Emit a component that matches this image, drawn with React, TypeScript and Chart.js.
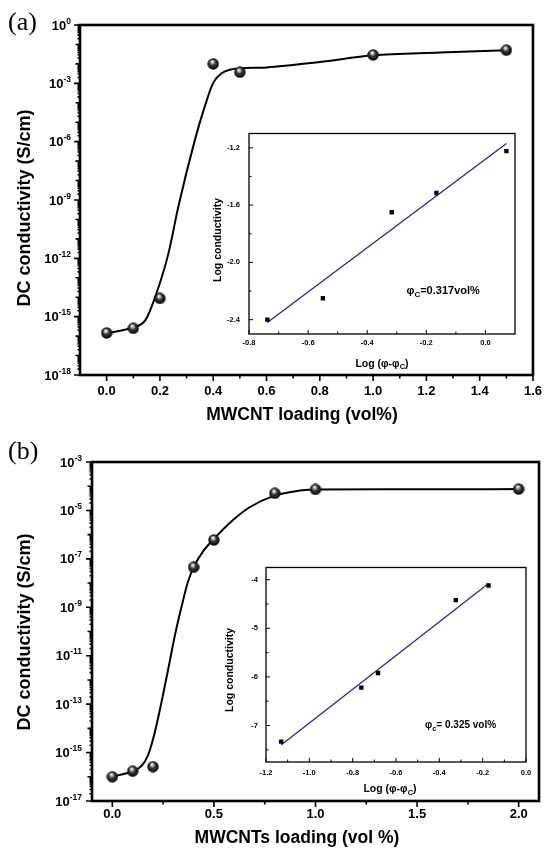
import React, { useEffect, useRef } from 'react';
import { Chart, registerables } from 'chart.js';

Chart.register(...registerables);

const FONT = "'Liberation Sans', Arial, Helvetica, sans-serif";
const SERIF = "'Liberation Serif', 'Times New Roman', serif";

// ---------------- Panel (a) data ----------------
const A_LOADING = [0, 0.1, 0.2, 0.4, 0.5, 1.0, 1.5];
const A_CONDUCTIVITY = [1.45e-16, 2.5e-16, 8.7e-15, 1.0e-2, 3.7e-3, 2.9e-2, 5.1e-2];
const A_FIT_LOADING = [0, 0.05, 0.1, 0.146, 0.183, 0.232, 0.269, 0.331, 0.368, 0.399, 0.43, 0.467, 0.504, 0.6, 0.8, 1.0, 1.25, 1.5];
const A_FIT_CONDUCTIVITY = [1.4e-16, 1.9e-16, 2.8e-16, 6.8e-16, 1.1e-14, 1.8e-12, 4.5e-10, 1.2e-6, 6.3e-5, 1.0e-3, 3.2e-3, 5.2e-3, 5.9e-3, 6.6e-3, 1.26e-2, 2.75e-2, 3.8e-2, 5.1e-2];
const A_X_TICKS = [0, 0.2, 0.4, 0.6, 0.8, 1.0, 1.2, 1.4, 1.6];
const A_Y_TICKS = [1, 1e-3, 1e-6, 1e-9, 1e-12, 1e-15, 1e-18];

// inset (a)
const AI_LOG_DPHI = [-0.738, -0.55, -0.317, -0.166, 0.071];
const AI_LOG_SIGMA = [-2.4, -2.25, -1.65, -1.515, -1.223];
const AI_FIT_X = [-0.738, 0.071];
const AI_FIT_Y = [-2.42, -1.17];
const AI_X_TICKS = [-0.8, -0.6, -0.4, -0.2, 0.0];
const AI_Y_TICKS = [-2.4, -2.0, -1.6, -1.2];

// ---------------- Panel (b) data ----------------
const B_LOADING = [0, 0.1, 0.2, 0.4, 0.5, 0.8, 1.0, 2.0];
const B_CONDUCTIVITY = [1.0e-16, 1.7e-16, 2.6e-16, 4.5e-8, 6.0e-7, 5.1e-5, 7.4e-5, 7.6e-5];
const B_FIT_LOADING = [0, 0.097, 0.143, 0.176, 0.208, 0.241, 0.274, 0.307, 0.34, 0.372, 0.405, 0.446, 0.499, 0.594, 0.676, 0.795, 0.923, 1.0, 1.5, 2.0];
const B_FIT_CONDUCTIVITY = [1.0e-16, 1.7e-16, 2.8e-16, 7.9e-16, 6.3e-15, 1.1e-13, 2.5e-12, 6.3e-11, 1.0e-9, 1.1e-8, 5.5e-8, 2.0e-7, 6.5e-7, 4.0e-6, 1.35e-5, 4.0e-5, 6.6e-5, 7.4e-5, 7.5e-5, 7.6e-5];
const B_X_TICKS = [0, 0.5, 1.0, 1.5, 2.0];
const B_Y_TICKS = [1e-3, 1e-5, 1e-7, 1e-9, 1e-11, 1e-13, 1e-15, 1e-17];

// inset (b)
const BI_LOG_DPHI = [-1.13, -0.76, -0.683, -0.324, -0.173];
const BI_LOG_SIGMA = [-7.33, -6.22, -5.92, -4.42, -4.12];
const BI_FIT_X = [-1.13, -0.173];
const BI_FIT_Y = [-7.4, -4.08];
const BI_X_TICKS = [-1.2, -1.0, -0.8, -0.6, -0.4, -0.2, 0.0];
const BI_Y_TICKS = [-7, -6, -5, -4];

// ---------------- helpers ----------------
const exponentOf = (v: number) => String(Math.round(Math.log10(v)));

function makeSphere(d: number) {
  const c = document.createElement('canvas');
  c.width = d;
  c.height = d;
  const g = c.getContext('2d')!;
  const r = d / 2;
  const grad = g.createRadialGradient(r * 0.8, r * 0.55, 0, r, r, r);
  grad.addColorStop(0, '#ffffff');
  grad.addColorStop(0.18, '#d8d8d8');
  grad.addColorStop(0.48, '#3a3a3a');
  grad.addColorStop(1, '#000000');
  g.fillStyle = grad;
  g.beginPath();
  g.arc(r, r, r - 0.3, 0, Math.PI * 2);
  g.fill();
  return c;
}

type Part = { t: string; size: number; dy: number };
function drawRich(ctx: CanvasRenderingContext2D, parts: Part[], x: number, y: number, align: 'left' | 'center' | 'right') {
  ctx.save();
  ctx.textAlign = 'left';
  ctx.textBaseline = 'alphabetic';
  ctx.fillStyle = '#000';
  const widths = parts.map((p) => {
    ctx.font = `bold ${p.size}px ${FONT}`;
    return ctx.measureText(p.t).width;
  });
  const total = widths.reduce((s, w) => s + w, 0);
  let cx = align === 'center' ? x - total / 2 : align === 'right' ? x - total : x;
  parts.forEach((p, i) => {
    ctx.font = `bold ${p.size}px ${FONT}`;
    ctx.fillText(p.t, cx, y + p.dy);
    cx += widths[i];
  });
  ctx.restore();
}

function minorBetween(ticks: number[], min: number, max: number) {
  const step = ticks[1] - ticks[0];
  const out: number[] = [];
  for (let i = -1; i < ticks.length; i++) {
    const v = ticks[0] + (i + 0.5) * step;
    if (v > min + 1e-9 && v < max - 1e-9) out.push(v);
  }
  return out;
}

type Area = { left: number; top: number; right: number; bottom: number };

interface MainSpec {
  x: number[]; y: number[]; fitX: number[]; fitY: number[];
  xMin: number; xMax: number; xTicks: number[];
  yMin: number; yMax: number; yTicks: number[];
  width: number; height: number; area: Area;
  xLabelPad: number; yLabelPad: number;
  xTitle: string; xTitlePos: [number, number];
  yTitle: string; yTitlePos: [number, number];
  panel: string; panelPos: [number, number];
}

function buildMain(canvas: HTMLCanvasElement, s: MainSpec, sphere: HTMLCanvasElement) {
  const tickFont = { family: FONT, size: 13, weight: 'bold' as const };
  return new Chart(canvas, {
    type: 'scatter',
    data: {
      datasets: [
        {
          data: s.x.map((v, i) => ({ x: v, y: s.y[i] })),
          pointStyle: sphere as any,
          pointRadius: 6,
          showLine: false,
        },
        {
          data: s.fitX.map((v, i) => ({ x: v, y: s.fitY[i] })),
          showLine: true,
          borderColor: '#000',
          borderWidth: 2,
          pointRadius: 0,
          cubicInterpolationMode: 'monotone',
          fill: false,
        },
      ],
    },
    options: {
      animation: false,
      responsive: false,
      devicePixelRatio: 1,
      events: [],
      layout: { padding: { left: 0, top: s.area.top, right: s.width - s.area.right, bottom: 0 } },
      plugins: { legend: { display: false }, tooltip: { enabled: false } },
      scales: {
        x: {
          type: 'linear',
          min: s.xMin,
          max: s.xMax,
          grid: { display: false, drawTicks: false },
          border: { display: false },
          afterBuildTicks: (sc: any) => { sc.ticks = s.xTicks.map((v) => ({ value: v })); },
          afterFit: (sc: any) => { sc.height = s.height - s.area.bottom; },
          ticks: { autoSkip: false, maxRotation: 0, padding: s.xLabelPad, color: '#000', font: tickFont,
            callback: (v: any) => Number(v).toFixed(1) },
        },
        y: {
          type: 'logarithmic',
          min: s.yMin,
          max: s.yMax,
          grid: { display: false, drawTicks: false },
          border: { display: false },
          afterBuildTicks: (sc: any) => { sc.ticks = s.yTicks.map((v) => ({ value: v })); },
          afterFit: (sc: any) => { sc.width = s.area.left; },
          ticks: { display: false },
        },
      },
    } as any,
    plugins: [
      {
        id: 'mainDecor',
        afterDraw(chart: any) {
          const { ctx, chartArea: a, scales } = chart;
          const xs = scales.x, ys = scales.y;
          ctx.save();
          ctx.strokeStyle = '#000';
          ctx.lineWidth = 1.6;
          ctx.beginPath();
          s.xTicks.forEach((v) => {
            const p = xs.getPixelForValue(v);
            ctx.moveTo(p, a.bottom); ctx.lineTo(p, a.bottom + 6);
          });
          minorBetween(s.xTicks, s.xMin, s.xMax).forEach((v) => {
            const p = xs.getPixelForValue(v);
            ctx.moveTo(p, a.bottom); ctx.lineTo(p, a.bottom + 3.5);
          });
          const e0 = Math.round(Math.log10(s.yMin));
          const e1 = Math.round(Math.log10(s.yMax));
          const labeled = new Set(s.yTicks.map((v) => Math.round(Math.log10(v))));
          for (let e = e0; e <= e1; e++) {
            const p = ys.getPixelForValue(Math.pow(10, e));
            const len = labeled.has(e) ? 6 : 4.5;
            ctx.moveTo(a.left, p); ctx.lineTo(a.left - len, p);
            if (e < e1) {
              for (let m = 2; m <= 9; m++) {
                const q = ys.getPixelForValue(m * Math.pow(10, e));
                ctx.moveTo(a.left, q); ctx.lineTo(a.left - 2.5, q);
              }
            }
          }
          ctx.stroke();
          ctx.lineWidth = 2.6;
          ctx.strokeRect(a.left, a.top, a.right - a.left, a.bottom - a.top);

          // y tick labels: 10 with superscript exponent
          s.yTicks.forEach((v) => {
            const p = ys.getPixelForValue(v);
            drawRich(ctx, [
              { t: '10', size: 13, dy: 0 },
              { t: exponentOf(v), size: 8.5, dy: -6 },
            ], a.left - s.yLabelPad, p + 4.6, 'right');
          });

          ctx.fillStyle = '#000';
          ctx.textAlign = 'center';
          ctx.textBaseline = 'middle';
          ctx.font = `bold 17.5px ${FONT}`;
          ctx.fillText(s.xTitle, s.xTitlePos[0], s.xTitlePos[1]);
          ctx.save();
          ctx.translate(s.yTitlePos[0], s.yTitlePos[1]);
          ctx.rotate(-Math.PI / 2);
          ctx.font = `bold 18px ${FONT}`;
          ctx.fillText(s.yTitle, 0, 0);
          ctx.restore();
          ctx.textAlign = 'left';
          ctx.font = `26px ${SERIF}`;
          ctx.fillText(s.panel, s.panelPos[0], s.panelPos[1]);
          ctx.restore();
        },
      },
    ],
  });
}

interface InsetSpec {
  x: number[]; y: number[]; fitX: number[]; fitY: number[];
  xMin: number; xMax: number; xTicks: number[];
  yMin: number; yMax: number; yTicks: number[]; yDecimals: number;
  width: number; height: number; area: Area;
  xLabelPad: number; yLabelPad: number;
  yTitlePos: [number, number]; xTitlePos: [number, number];
  note: Part[]; notePos: [number, number]; // data coordinates
}

function buildInset(canvas: HTMLCanvasElement, s: InsetSpec) {
  const tickFont = { family: FONT, size: 7.5, weight: 'bold' as const };
  return new Chart(canvas, {
    type: 'scatter',
    data: {
      datasets: [
        {
          data: s.x.map((v, i) => ({ x: v, y: s.y[i] })),
          pointStyle: 'rect',
          pointRadius: 3.1,
          backgroundColor: '#000',
          borderColor: '#000',
          borderWidth: 0,
          showLine: false,
        },
        {
          data: s.fitX.map((v, i) => ({ x: v, y: s.fitY[i] })),
          showLine: true,
          borderColor: '#23238c',
          borderWidth: 1.2,
          pointRadius: 0,
          fill: false,
        },
      ],
    },
    options: {
      animation: false,
      responsive: false,
      devicePixelRatio: 1,
      events: [],
      layout: { padding: { left: 0, top: s.area.top, right: s.width - s.area.right, bottom: 0 } },
      plugins: { legend: { display: false }, tooltip: { enabled: false } },
      scales: {
        x: {
          type: 'linear', min: s.xMin, max: s.xMax,
          grid: { display: false, drawTicks: false },
          border: { display: false },
          afterBuildTicks: (sc: any) => { sc.ticks = s.xTicks.map((v) => ({ value: v })); },
          afterFit: (sc: any) => { sc.height = s.height - s.area.bottom; },
          ticks: { autoSkip: false, maxRotation: 0, padding: s.xLabelPad, color: '#000', font: tickFont,
            callback: (v: any) => Number(v).toFixed(1) },
        },
        y: {
          type: 'linear', min: s.yMin, max: s.yMax,
          grid: { display: false, drawTicks: false },
          border: { display: false },
          afterBuildTicks: (sc: any) => { sc.ticks = s.yTicks.map((v) => ({ value: v })); },
          afterFit: (sc: any) => { sc.width = s.area.left; },
          ticks: { autoSkip: false, padding: s.yLabelPad, color: '#000', font: tickFont,
            callback: (v: any) => Number(v).toFixed(s.yDecimals) },
        },
      },
    } as any,
    plugins: [
      {
        id: 'insetDecor',
        beforeDraw(chart: any) {
          const { ctx, chartArea: a } = chart;
          ctx.save();
          ctx.fillStyle = '#fff';
          ctx.fillRect(a.left, a.top, a.right - a.left, a.bottom - a.top);
          ctx.restore();
        },
        afterDraw(chart: any) {
          const { ctx, chartArea: a, scales } = chart;
          const xs = scales.x, ys = scales.y;
          ctx.save();
          ctx.strokeStyle = '#000';
          ctx.lineWidth = 1;
          ctx.beginPath();
          s.xTicks.forEach((v) => {
            const p = xs.getPixelForValue(v);
            ctx.moveTo(p, a.bottom); ctx.lineTo(p, a.bottom - 4);
          });
          minorBetween(s.xTicks, s.xMin, s.xMax).forEach((v) => {
            const p = xs.getPixelForValue(v);
            ctx.moveTo(p, a.bottom); ctx.lineTo(p, a.bottom - 2.5);
          });
          s.yTicks.forEach((v) => {
            const p = ys.getPixelForValue(v);
            ctx.moveTo(a.left, p); ctx.lineTo(a.left + 4, p);
          });
          minorBetween(s.yTicks, s.yMin, s.yMax).forEach((v) => {
            const p = ys.getPixelForValue(v);
            ctx.moveTo(a.left, p); ctx.lineTo(a.left + 2.5, p);
          });
          ctx.stroke();
          ctx.lineWidth = 1.3;
          ctx.strokeRect(a.left, a.top, a.right - a.left, a.bottom - a.top);
          // y title
          ctx.fillStyle = '#000';
          ctx.save();
          ctx.translate(s.yTitlePos[0], s.yTitlePos[1]);
          ctx.rotate(-Math.PI / 2);
          ctx.textAlign = 'center';
          ctx.textBaseline = 'middle';
          ctx.font = `bold 10.5px ${FONT}`;
          ctx.fillText('Log conductivity', 0, 0);
          ctx.restore();
          // x title with subscript
          drawRich(ctx, [
            { t: 'Log (φ-φ', size: 10.5, dy: 0 },
            { t: 'C', size: 7.5, dy: 2.5 },
            { t: ')', size: 10.5, dy: 0 },
          ], s.xTitlePos[0], s.xTitlePos[1], 'center');
          // annotation
          const nx = xs.getPixelForValue(s.notePos[0]);
          const ny = ys.getPixelForValue(s.notePos[1]);
          drawRich(ctx, s.note, nx, ny + 4, 'left');
          ctx.restore();
        },
      },
    ],
  });
}

// ---------------- layout specs ----------------
const SPEC_A: MainSpec = {
  x: A_LOADING, y: A_CONDUCTIVITY, fitX: A_FIT_LOADING, fitY: A_FIT_CONDUCTIVITY,
  xMin: -0.1, xMax: 1.6, xTicks: A_X_TICKS,
  yMin: 1e-18, yMax: 1, yTicks: A_Y_TICKS,
  width: 551, height: 430, area: { left: 80, top: 25, right: 539, bottom: 375 },
  xLabelPad: 9, yLabelPad: 9,
  xTitle: 'MWCNT loading (vol%)', xTitlePos: [302, 415],
  yTitle: 'DC conductivity (S/cm)', yTitlePos: [25, 208],
  panel: '(a)', panelPos: [8, 23],
};

const SPEC_B: MainSpec = {
  x: B_LOADING, y: B_CONDUCTIVITY, fitX: B_FIT_LOADING, fitY: B_FIT_CONDUCTIVITY,
  xMin: -0.1, xMax: 2.1, xTicks: B_X_TICKS,
  yMin: 1e-17, yMax: 1e-3, yTicks: B_Y_TICKS,
  width: 551, height: 428, area: { left: 92, top: 42, right: 539, bottom: 381 },
  xLabelPad: 6, yLabelPad: 10,
  xTitle: 'MWCNTs loading (vol %)', xTitlePos: [297, 418],
  yTitle: 'DC conductivity (S/cm)', yTitlePos: [25, 212],
  panel: '(b)', panelPos: [8, 32],
};

const INSET_A: InsetSpec = {
  x: AI_LOG_DPHI, y: AI_LOG_SIGMA, fitX: AI_FIT_X, fitY: AI_FIT_Y,
  xMin: -0.8, xMax: 0.1, xTicks: AI_X_TICKS,
  yMin: -2.5, yMax: -1.1, yTicks: AI_Y_TICKS, yDecimals: 1,
  width: 330, height: 255, area: { left: 49, top: 10, right: 315, bottom: 214 },
  xLabelPad: 4.5, yLabelPad: 9,
  yTitlePos: [18, 120], xTitlePos: [182, 246.5],
  note: [
    { t: 'φ', size: 11, dy: 0 },
    { t: 'C', size: 8, dy: 3 },
    { t: '=0.317vol%', size: 11, dy: 0 },
  ],
  notePos: [-0.267, -2.19],
};

const INSET_B: InsetSpec = {
  x: BI_LOG_DPHI, y: BI_LOG_SIGMA, fitX: BI_FIT_X, fitY: BI_FIT_Y,
  xMin: -1.2, xMax: 0.0, xTicks: BI_X_TICKS,
  yMin: -7.75, yMax: -3.75, yTicks: BI_Y_TICKS, yDecimals: 0,
  width: 330, height: 245, area: { left: 56, top: 9, right: 316, bottom: 207 },
  xLabelPad: 6, yLabelPad: 8,
  yTitlePos: [20, 115], xTitlePos: [180, 237],
  note: [
    { t: 'φ', size: 10, dy: 0 },
    { t: 'c', size: 7.5, dy: 2.5 },
    { t: '= 0.325 vol%', size: 10, dy: 0 },
  ],
  notePos: [-0.466, -6.97],
};

export default function App() {
  const refA = useRef<HTMLCanvasElement>(null);
  const refB = useRef<HTMLCanvasElement>(null);
  const refAI = useRef<HTMLCanvasElement>(null);
  const refBI = useRef<HTMLCanvasElement>(null);

  useEffect(() => {
    const sphere = makeSphere(12);
    const charts = [
      buildMain(refA.current!, SPEC_A, sphere),
      buildMain(refB.current!, SPEC_B, sphere),
      buildInset(refAI.current!, INSET_A),
      buildInset(refBI.current!, INSET_B),
    ];
    return () => charts.forEach((c) => c.destroy());
  }, []);

  const abs = (l: number, t: number, w: number, h: number): React.CSSProperties => ({
    position: 'absolute', left: l, top: t, width: w, height: h,
  });

  return (
    <div style={{ position: 'absolute', left: 0, top: 0, width: 551, height: 848, background: '#fff', overflow: 'hidden' }}>
      <canvas ref={refA} width={551} height={430} style={abs(0, 0, 551, 430)} />
      <canvas ref={refB} width={551} height={428} style={abs(0, 420, 551, 428)} />
      <canvas ref={refAI} width={330} height={255} style={abs(200, 120, 330, 255)} />
      <canvas ref={refBI} width={330} height={245} style={abs(210, 555, 330, 245)} />
    </div>
  );
}
